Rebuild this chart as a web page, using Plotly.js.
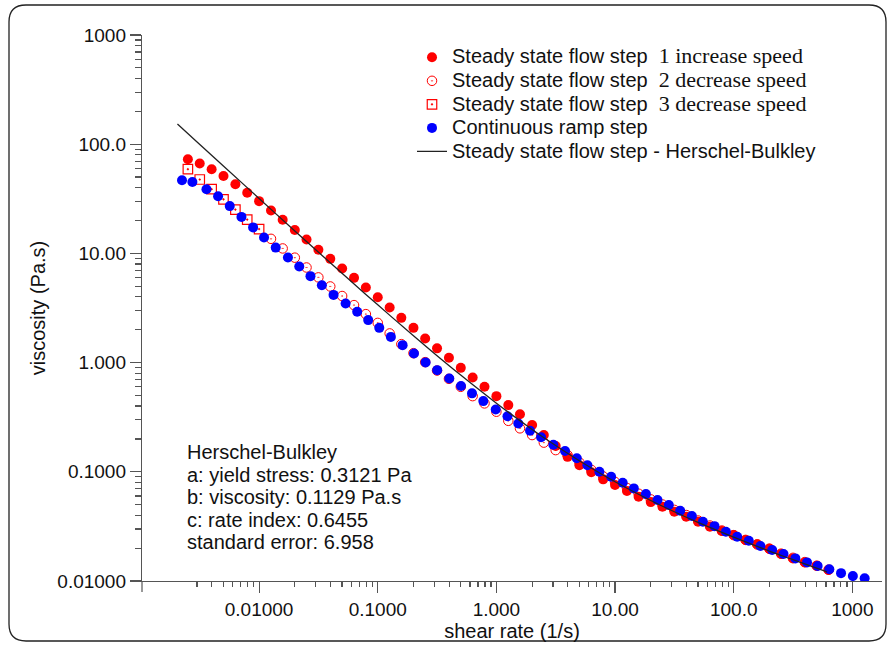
<!DOCTYPE html>
<html>
<head>
<meta charset="utf-8">
<script src="https://cdn.plot.ly/plotly-3.0.1.min.js"></script>
<style>
  html, body { margin: 0; padding: 0; background: #fff; }
  #chart { width: 892px; height: 646px; }
</style>
</head>
<body>
<div id="chart"></div>
<script>
// ---- data ----
const step1Rate = [0.00251,0.00316,0.00398,0.00501,0.00631,0.00794,0.01,0.0126,0.0158,0.02,0.0251,0.0316,0.0398,0.0501,0.0631,0.0794,0.1,0.126,0.158,0.2,0.251,0.316,0.398,0.501,0.631,0.794,1,1.26,1.58,2,2.51,3.16,3.98,5.01,6.31,7.94,10,12.6,15.8,20,25.1,31.6,39.8,50.1,63.1,79.4,100,126,158,200,251,316,398,501,631];
const step1Visc = [72.8,66.5,59.0,51.1,43.0,35.9,30.1,24.7,20.3,16.4,13.4,10.8,8.91,7.28,5.97,4.88,3.97,3.20,2.57,2.08,1.66,1.35,1.107,0.895,0.731,0.600,0.493,0.408,0.336,0.268,0.217,0.172,0.137,0.115,0.0989,0.0853,0.0757,0.0667,0.0592,0.0528,0.0479,0.0431,0.0388,0.0349,0.0314,0.0287,0.0264,0.0237,0.0217,0.0198,0.0177,0.0161,0.0148,0.0138,0.0126];

const step2Rate = [0.0126,0.0158,0.02,0.0251,0.0316,0.0398,0.0501,0.0631,0.0794,0.1,0.126,0.158,0.2,0.251,0.316,0.398,0.501,0.631,0.794,1,1.26,1.58,2,2.51,3.16,3.98,5.01,6.31,7.94,10,12.6,15.8,20,25.1,31.6,39.8,50.1,63.1,79.4,100,126,158,200,251,316,398,501,631];
const step2Visc = [13.6,11.1,9.14,7.43,6.03,4.98,4.07,3.36,2.78,2.31,1.85,1.476,1.22,1.01,0.846,0.710,0.600,0.493,0.423,0.355,0.293,0.250,0.217,0.185,0.158,0.1423,0.1218,0.1042,0.0908,0.0807,0.0711,0.0630,0.0559,0.0502,0.0448,0.0402,0.0358,0.0322,0.0290,0.0263,0.0238,0.0216,0.0197,0.0178,0.0163,0.0149,0.0138,0.0127];

const step3Rate = [0.00251,0.00316,0.00398,0.00501,0.00631,0.00794,0.01];
const step3Visc = [59.0,47.5,38.7,31.3,25.2,20.4,16.7];

const rampRate = [0.00224,0.00274,0.00360,0.00451,0.00566,0.00710,0.00890,0.0110,0.0138,0.0175,0.0218,0.0271,0.0338,0.0424,0.0536,0.0671,0.0831,0.103,0.129,0.162,0.202,0.253,0.317,0.401,0.503,0.623,0.776,0.987,1.24,1.53,1.92,2.38,3.02,3.79,4.76,5.85,7.38,9.27,11.6,14.4,18.2,22.8,28.4,35.4,44.4,55.0,68.9,86.0,107,134,168,211,263,331,415,510,640,803,1010,1270];
const rampVisc = [46.8,45.1,38.7,33.4,27.1,21.6,17.3,14.0,11.3,9.18,7.59,6.19,5.10,4.17,3.48,2.92,2.45,2.08,1.72,1.445,1.213,1.004,0.853,0.716,0.610,0.523,0.444,0.372,0.323,0.277,0.238,0.207,0.177,0.155,0.133,0.115,0.100,0.0901,0.0795,0.0705,0.0625,0.0551,0.0497,0.0440,0.0394,0.0349,0.0318,0.0282,0.0254,0.0234,0.0209,0.0192,0.0177,0.0161,0.0148,0.0137,0.0128,0.0118,0.0111,0.0106];

const hbRate = [0.00205,0.003,0.005,0.01,0.02,0.03,0.05,0.1,0.2,0.3,0.5,1,2,3,5,10,20,30,50,100,200,300,500,612];
const hbVisc = [153.3,104.9,63.2,31.8,16.06,10.8,6.57,3.38,1.760,1.213,0.769,0.425,0.2443,0.1805,0.1262,0.0810,0.0546,0.0442,0.0344,0.0252,0.0188,0.0160,0.0131,0.0121];

const SERIF_SPAN = '<span style="font-family:\'Liberation Serif\',serif;font-size:22px">';
const SANS_SPAN = '<span style="font-size:20px">';
const seriesNames = [
  SANS_SPAN + 'Steady state flow step </span>' + SERIF_SPAN + ' 1 increase speed</span>',
  SANS_SPAN + 'Steady state flow step </span>' + SERIF_SPAN + ' 2 decrease speed</span>',
  SANS_SPAN + 'Steady state flow step </span>' + SERIF_SPAN + ' 3 decrease speed</span>',
  SANS_SPAN + 'Continuous ramp step</span>',
  SANS_SPAN + 'Steady state flow step - Herschel-Bulkley</span>'
];

const majorTickVals = [0.01, 0.1, 1, 10, 100, 1000];
const majorTickText = ['0.01000', '0.1000', '1.000', '10.00', '100.0', '1000'];
const minorDigits = [2, 3, 4, 5, 6, 7, 8, 9];
const xMinorDecades = [0.01, 0.1, 1, 10, 100];
const yMinorDecades = [0.01, 0.1, 1, 10, 100];
const xFirstDecadeMinor = [0.003, 0.004, 0.005, 0.006, 0.007, 0.008, 0.009];

const fitLines = [
  'Herschel-Bulkley',
  'a: yield stress: 0.3121 Pa',
  'b: viscosity: 0.1129 Pa.s',
  'c: rate index: 0.6455',
  'standard error: 6.958'
];

// ---- layout helpers ----
const W = 892, H = 646;
const L = 142, R = 10, T = 35, B = 65;
const pw = W - L - R, ph = H - T - B;
const px2x = p => (p - L) / pw;
const py2y = p => (H - B - p) / ph;

const xMinor = xFirstDecadeMinor.slice();
xMinorDecades.forEach(d => minorDigits.forEach(m => xMinor.push(+(d * m).toPrecision(3))));
const yMinor = [];
yMinorDecades.forEach(d => minorDigits.forEach(m => yMinor.push(+(d * m).toPrecision(3))));

const RED = '#ff0000', BLUE = '#0000ff';
const SANS = 'Liberation Sans, Arial, Helvetica, sans-serif';

const traces = [
  { x: step1Rate, y: step1Visc, name: seriesNames[0], type: 'scatter', mode: 'markers',
    marker: { symbol: 'circle', size: 10, color: RED } },
  { x: step2Rate, y: step2Visc, name: seriesNames[1], type: 'scatter', mode: 'markers',
    marker: { symbol: 'circle-open-dot', size: 9.5, color: RED, line: { width: 1, color: RED } } },
  { x: step3Rate, y: step3Visc, name: seriesNames[2], type: 'scatter', mode: 'markers',
    marker: { symbol: 'square-open-dot', size: 9.5, color: RED, line: { width: 1.2, color: RED } } },
  { x: rampRate, y: rampVisc, name: seriesNames[3], type: 'scatter', mode: 'markers',
    marker: { symbol: 'circle', size: 10, color: BLUE } },
  { x: hbRate, y: hbVisc, name: seriesNames[4], type: 'scatter', mode: 'lines',
    line: { color: '#222222', width: 1.3, shape: 'spline' } }
];

const axisCommon = {
  type: 'log', showgrid: false, zeroline: false, showline: true,
  linecolor: '#555555', linewidth: 1.2, mirror: false,
  ticks: 'outside', ticklen: 11, tickwidth: 1.2, tickcolor: '#555555',
  tickmode: 'array', tickvals: majorTickVals, ticktext: majorTickText,
  tickfont: { family: SANS, size: 19, color: '#111111' },
};

const annotations = fitLines.map((t, i) => ({
  xref: 'paper', yref: 'paper',
  x: px2x(185), y: py2y([452, 474.5, 497, 519.5, 542][i]),
  xanchor: 'left', yanchor: 'middle', showarrow: false,
  text: t, font: { family: SANS, size: 20, color: '#111111' }
}));

// frame (rounded rectangle) in paper coords
const fx0 = px2x(9), fx1 = px2x(886), fyt = py2y(5), fyb = py2y(641);
const rx = 17 / pw, ry = 17 / ph;
const framePath = `M ${fx0},${fyb + ry} L ${fx0},${fyt - ry} Q ${fx0},${fyt} ${fx0 + rx},${fyt} ` +
  `L ${fx1 - rx},${fyt} Q ${fx1},${fyt} ${fx1},${fyt - ry} L ${fx1},${fyb + ry} ` +
  `Q ${fx1},${fyb} ${fx1 - rx},${fyb} L ${fx0 + rx},${fyb} Q ${fx0},${fyb} ${fx0},${fyb + ry} Z`;

const layout = {
  width: W, height: H,
  margin: { l: L, r: R, t: T, b: B, pad: 0 },
  paper_bgcolor: '#ffffff', plot_bgcolor: '#ffffff',
  font: { family: SANS, color: '#111111' },
  showlegend: true,
  legend: {
    x: px2x(412), y: py2y(40.5), xanchor: 'left', yanchor: 'top',
    bgcolor: 'rgba(0,0,0,0)', borderwidth: 0,
    font: { family: SANS, size: 15.8, color: '#111111' },
    tracegroupgap: 0, itemsizing: 'trace'
  },
  xaxis: Object.assign({}, axisCommon, {
    range: [-2.987, 3.25],
    title: { text: 'shear rate (1/s)', font: { family: SANS, size: 20, color: '#111111' }, standoff: 3 },
    minor: { tickmode: 'array', tickvals: xMinor, ticklen: 5, tickwidth: 1.2, tickcolor: '#555555', ticks: 'outside', showgrid: false }
  }),
  yaxis: Object.assign({}, axisCommon, {
    range: [-2, 3],
    title: { text: 'viscosity (Pa.s)', font: { family: SANS, size: 20, color: '#111111' }, standoff: 6 },
    minor: { tickmode: 'array', tickvals: yMinor, ticklen: 6, tickwidth: 1.2, tickcolor: '#555555', ticks: 'outside', showgrid: false }
  }),
  annotations: annotations,
  shapes: [
    { type: 'path', xref: 'paper', yref: 'paper', path: framePath, line: { color: '#222222', width: 1.3 }, layer: 'above' },
    { type: 'line', xref: 'paper', yref: 'paper', x0: 0, x1: 0, y0: 0, y1: -11 / ph, line: { color: '#555555', width: 1.2 } }
  ]
};

Plotly.newPlot('chart', traces, layout, { displayModeBar: false, staticPlot: true });
</script>
</body>
</html>
